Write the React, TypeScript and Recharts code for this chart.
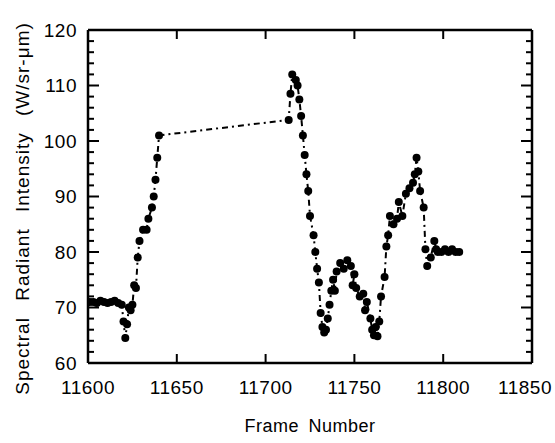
import React from 'react';
import { LineChart, Line, XAxis, YAxis, Label } from 'recharts';

const frames = [
  11601, 11603, 11605, 11607, 11609, 11611, 11613, 11615, 11617, 11619,
  11620, 11621, 11622, 11623, 11624, 11625, 11626, 11627, 11628, 11629,
  11631, 11633, 11634, 11636, 11637, 11638, 11639, 11640,
  11713, 11714, 11715, 11717, 11718, 11719, 11720, 11721, 11722, 11723,
  11724, 11725, 11727, 11728, 11729, 11730, 11731, 11732, 11733,
  11734, 11735, 11736, 11737, 11738, 11739, 11740, 11742, 11744, 11746,
  11748, 11749, 11750, 11751, 11753, 11755, 11756, 11757, 11759, 11760,
  11761, 11762, 11763, 11764, 11765, 11767, 11768, 11769, 11770, 11772,
  11774, 11775, 11777, 11779, 11781, 11783, 11784, 11785, 11786, 11787,
  11789, 11790, 11791, 11793, 11795, 11796, 11797, 11799, 11801, 11803,
  11805, 11807, 11809,
];

const intensity = [
  71, 71, 70.8, 71.2, 71, 70.8, 71, 71.2, 70.8, 70.5,
  67.5, 64.5, 67, 70, 69.5, 70.5, 74, 73.5, 79, 82,
  84, 84, 86, 88, 90, 93, 97, 101,
  103.8, 108.5, 112, 111, 110, 107.5, 104.5, 101, 97.5, 94,
  91, 86.5, 83, 80, 77, 74.5, 69, 66.5, 65.5,
  66, 68, 70.5, 73, 75, 73, 76.5, 78, 77, 78.5,
  77.5, 74, 76, 73.5, 72, 72.5, 69.5, 71, 68, 66,
  65, 66.5, 64.8, 67.5, 72, 75.5, 81, 83, 86.5, 85,
  86, 89, 86.5, 90.5, 91.5, 92.5, 94, 97, 94.5, 91,
  88, 80.5, 77.5, 79, 82, 80.5, 80, 80, 80.5, 80,
  80.5, 80, 80,
];

const xTicks = [11600, 11650, 11700, 11750, 11800, 11850];
const yMajorTicks = [60, 70, 80, 90, 100, 110, 120];
const yMinorTicks = [
  60, 62, 64, 66, 68, 70, 72, 74, 76, 78, 80, 82, 84, 86, 88, 90,
  92, 94, 96, 98, 100, 102, 104, 106, 108, 110, 112, 114, 116, 118, 120,
];

const data = frames.map((f, i) => ({ frame: f, value: intensity[i] }));

const FONT = '"Liberation Sans", Arial, Helvetica, sans-serif';
const xDomain: [number, number] = [11600, 11850];
const yDomain: [number, number] = [60, 120];
const lineStyle = { stroke: '#000', strokeWidth: 2.5 };
const labelStyle = { fill: '#000', fontSize: 19, fontFamily: FONT };

const BOTTOM_MARGIN = 17;
const LEFT_MARGIN = 11;

const BottomTick = (props: any) => {
  const { x, y, payload } = props;
  const axisY = y - BOTTOM_MARGIN;
  const isLast = payload.value === xTicks[xTicks.length - 1];
  return (
    <g>
      <line x1={x} x2={x} y1={axisY} y2={axisY - 9} stroke="#000" strokeWidth={2} />
      <text
        x={isLast ? x + 20 : x}
        y={y + 14}
        textAnchor={isLast ? 'end' : 'middle'}
        style={{ ...labelStyle, letterSpacing: 0.5 }}
      >
        {payload.value}
      </text>
    </g>
  );
};

const TopTick = (props: any) => {
  const { x, y } = props;
  return <line x1={x} x2={x} y1={y} y2={y + 9} stroke="#000" strokeWidth={2} />;
};

const LeftTick = (props: any) => {
  const { x, y, payload } = props;
  const axisX = x + LEFT_MARGIN;
  const major = yMajorTicks.includes(payload.value);
  return (
    <g>
      <line x1={axisX} x2={axisX + (major ? 11 : 6)} y1={y} y2={y} stroke="#000" strokeWidth={2} />
      {major && (
        <text x={x} y={y} textAnchor="end" dominantBaseline="central" style={{ ...labelStyle, letterSpacing: 0.5 }}>
          {payload.value}
        </text>
      )}
    </g>
  );
};

const RightTick = (props: any) => {
  const { x, y, payload } = props;
  const major = yMajorTicks.includes(payload.value);
  return <line x1={x} x2={x - (major ? 11 : 6)} y1={y} y2={y} stroke="#000" strokeWidth={2} />;
};

export default function App() {
  return (
    <div style={{ position: 'absolute', left: 0, top: 0, background: '#fff' }}>
      <LineChart
        width={555}
        height={443}
        data={data}
        margin={{ top: 29, right: 22, bottom: 5, left: 28 }}
      >
        <XAxis
          xAxisId="b"
          dataKey="frame"
          type="number"
          domain={xDomain}
          ticks={xTicks}
          interval={0}
          allowDataOverflow
          orientation="bottom"
          height={75}
          tickLine={false}
          tickSize={0}
          tickMargin={BOTTOM_MARGIN}
          axisLine={lineStyle}
          tick={BottomTick}
        >
          <Label
            value="Frame Number"
            position="insideBottom"
            offset={6}
            style={{ fill: '#000', fontSize: 18, fontFamily: FONT, letterSpacing: 0.5, wordSpacing: 4 }}
          />
        </XAxis>
        <XAxis
          xAxisId="t"
          dataKey="frame"
          type="number"
          domain={xDomain}
          ticks={xTicks}
          interval={0}
          allowDataOverflow
          orientation="top"
          height={1}
          tickLine={false}
          tickSize={0}
          tickMargin={0}
          axisLine={lineStyle}
          tick={TopTick}
        />
        <YAxis
          yAxisId="l"
          type="number"
          domain={yDomain}
          ticks={yMinorTicks}
          interval={0}
          allowDataOverflow
          width={60}
          tickLine={false}
          tickSize={0}
          tickMargin={LEFT_MARGIN}
          axisLine={lineStyle}
          tick={LeftTick}
        >
          <Label
            content={(p: any) => {
              const vb = p.viewBox || { y: 30, height: 333 };
              const cy = vb.y + vb.height / 2 + 12;
              return (
                <text
                  x={22}
                  y={cy}
                  transform={`rotate(-90, 22, ${cy})`}
                  textAnchor="middle"
                  dominantBaseline="central"
                  style={{ fill: '#000', fontSize: 19, fontFamily: FONT, letterSpacing: 1, wordSpacing: 10 }}
                >
                  Spectral Radiant Intensity (W/sr-μm)
                </text>
              );
            }}
          />
        </YAxis>
        <YAxis
          yAxisId="r"
          type="number"
          domain={yDomain}
          ticks={yMinorTicks}
          interval={0}
          allowDataOverflow
          orientation="right"
          width={1}
          tickLine={false}
          tickSize={0}
          tickMargin={0}
          axisLine={lineStyle}
          tick={RightTick}
        />
        <Line
          xAxisId="b"
          yAxisId="l"
          type="linear"
          dataKey="value"
          stroke="#000"
          strokeWidth={2}
          strokeDasharray="6 4 2 4"
          dot={{ r: 4, fill: '#000', stroke: '#000', strokeWidth: 0 }}
          isAnimationActive={false}
        />
      </LineChart>
    </div>
  );
}
